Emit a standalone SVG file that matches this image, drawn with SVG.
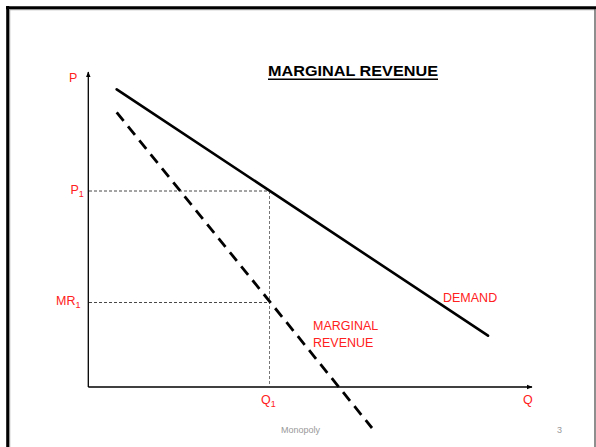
<svg xmlns="http://www.w3.org/2000/svg" width="596" height="447" viewBox="0 0 596 447">
<defs>
<style>
.lbl{font-family:"Liberation Sans",Arial,sans-serif;font-size:12.5px;fill:#ff2020}
.sub{font-size:9px}
.ax{stroke:#000;stroke-width:1.3;fill:none}
.guide{stroke:#333;stroke-width:0.9;stroke-dasharray:3,2;fill:none}
.vguide{stroke:#666;stroke-width:0.9;stroke-dasharray:3,2;fill:none}
</style>
<marker id="arr" viewBox="0 0 10 10" refX="9" refY="5" markerWidth="6" markerHeight="6" markerUnits="userSpaceOnUse" orient="auto">
<path d="M0,1 L10,5 L0,9 z" fill="#000"/>
</marker>
</defs>
<rect width="596" height="447" fill="#fff"/>
<g id="frame">
<line x1="6" y1="7.7" x2="596" y2="7.7" stroke="#000" stroke-width="3"/>
<line x1="7.7" y1="6" x2="7.7" y2="447" stroke="#000" stroke-width="3"/>
<line x1="9.5" y1="9.7" x2="595" y2="9.7" stroke="#888" stroke-width="1"/>
<line x1="9.7" y1="9.5" x2="9.7" y2="447" stroke="#888" stroke-width="1"/>
<line x1="595" y1="9" x2="595" y2="447" stroke="#444" stroke-width="1.2"/>
</g>
<g id="title">
<text x="268" y="76" font-family="'Liberation Sans',Arial,sans-serif" font-size="15" font-weight="bold" textLength="170" lengthAdjust="spacingAndGlyphs" fill="#000">MARGINAL REVENUE</text>
<line x1="268" y1="79.3" x2="438" y2="79.3" stroke="#000" stroke-width="1.4"/>
</g>
<g id="connectors">
<line class="ax" x1="88.3" y1="387" x2="88.3" y2="72" marker-end="url(#arr)"/>
<line class="ax" x1="88.3" y1="387" x2="532" y2="387" marker-end="url(#arr)"/>
<line class="guide" x1="89" y1="191" x2="270" y2="191"/>
<line class="guide" x1="89" y1="302.5" x2="270" y2="302.5"/>
<line class="vguide" x1="269.5" y1="191" x2="269.5" y2="386"/>
</g>
<g id="demand">
<line x1="116.7" y1="89.3" x2="488" y2="335.7" stroke="#000" stroke-width="2.6" stroke-linecap="round"/>
<text class="lbl" x="443" y="302" font-size="12">DEMAND</text>
</g>
<g id="marginal-revenue">
<line x1="116.7" y1="112.3" x2="372" y2="428" stroke="#000" stroke-width="2.8" stroke-dasharray="11,7"/>
<text class="lbl" x="313" y="330" font-size="12">MARGINAL</text>
<text class="lbl" x="313" y="347" font-size="12">REVENUE</text>
</g>
<g id="labels">
<text class="lbl" x="69" y="82">P</text>
<text class="lbl" x="70.5" y="194">P<tspan class="sub" dy="3">1</tspan></text>
<text class="lbl" x="56" y="305">MR<tspan class="sub" dy="3">1</tspan></text>
<text class="lbl" x="261" y="404">Q<tspan class="sub" dy="3">1</tspan></text>
<text class="lbl" x="523" y="404">Q</text>
</g>
<g id="footer">
<text x="281" y="433" font-family="'Liberation Sans',Arial,sans-serif" font-size="9" fill="#999">Monopoly</text>
<text x="557" y="433" font-family="'Liberation Sans',Arial,sans-serif" font-size="9" fill="#999">3</text>
</g>
</svg>
